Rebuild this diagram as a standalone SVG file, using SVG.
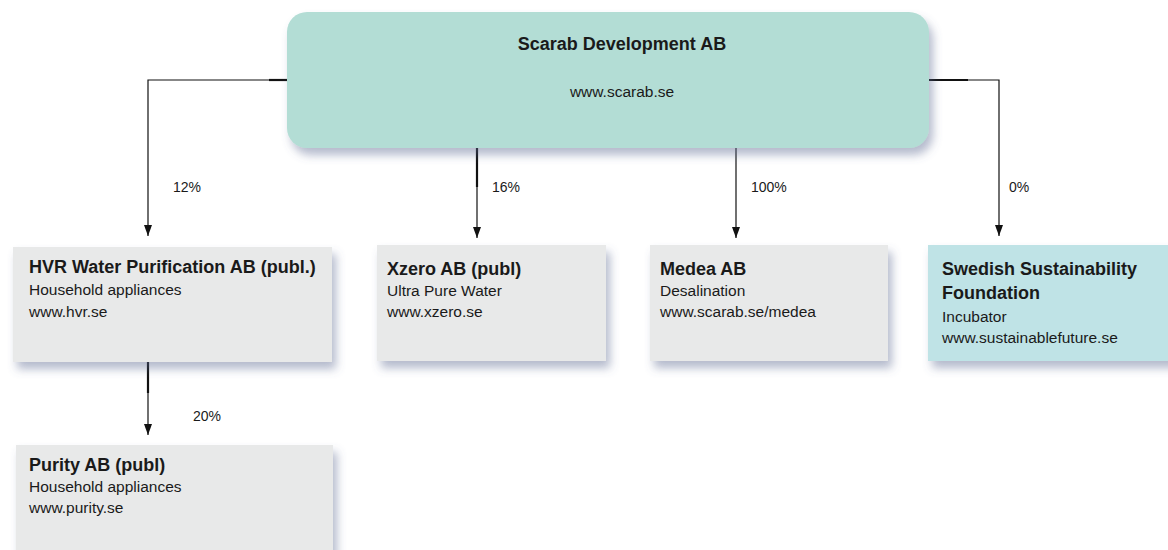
<svg xmlns="http://www.w3.org/2000/svg" width="1168" height="550" viewBox="0 0 1168 550">
<defs>
<filter id="sh" x="-10%" y="-20%" width="130%" height="160%">
<feGaussianBlur in="SourceAlpha" stdDeviation="5"/>
<feOffset dx="4" dy="7" result="b"/>
<feFlood flood-color="#5a6790" flood-opacity="0.45"/>
<feComposite in2="b" operator="in"/>
<feMerge><feMergeNode/><feMergeNode in="SourceGraphic"/></feMerge>
</filter>
<marker id="ah" markerWidth="12" markerHeight="8" refX="11" refY="4" orient="auto" markerUnits="userSpaceOnUse" viewBox="0 0 12 8">
<path d="M0,0 L11,4 L0,8 Z" fill="#111"/>
</marker>
</defs>
<style>
text{font-family:"Liberation Sans",Arial,sans-serif;fill:#1a1a1a}
.t{font-weight:bold;font-size:18px}
.s{font-size:15.5px}
.p{font-size:14px}
.box{fill:#e8e9e9;filter:url(#sh)}
.ln{stroke:#111;stroke-width:1.2;fill:none}
.st{stroke:#111;stroke-width:2.2;fill:none}
</style>
<rect width="1168" height="550" fill="#fff"/>
<g id="connectors">
<path class="ln" d="M287,80 H148 V236" marker-end="url(#ah)"/>
<path class="st" d="M269,80 H287"/>
<path class="ln" d="M929,80 H999 V236" marker-end="url(#ah)"/>
<path class="st" d="M929,80 H968"/>
<path class="ln" d="M477,148 V238" marker-end="url(#ah)"/>
<path class="st" d="M477,148 V187"/>
<path class="ln" d="M736,148 V238" marker-end="url(#ah)"/>
<path class="ln" d="M148,362 V435" marker-end="url(#ah)"/>
<path class="st" d="M148,362 V393"/>
<text class="p" x="173" y="192">12%</text>
<text class="p" x="492" y="192">16%</text>
<text class="p" x="751" y="192">100%</text>
<text class="p" x="1009" y="192">0%</text>
<text class="p" x="193" y="421">20%</text>
</g>
<g id="scarab">
<rect x="287" y="12" width="642" height="136" rx="20" fill="#b3ddd5" filter="url(#sh)"/>
<text class="t" x="622" y="50" text-anchor="middle">Scarab Development AB</text>
<text class="s" x="622" y="97" text-anchor="middle">www.scarab.se</text>
</g>
<g id="hvr">
<rect class="box" x="13" y="247" width="319" height="115"/>
<text class="t" x="29" y="273">HVR Water Purification AB (publ.)</text>
<text class="s" x="29" y="295">Household appliances</text>
<text class="s" x="29" y="317">www.hvr.se</text>
</g>
<g id="xzero">
<rect class="box" x="377" y="245" width="229" height="116"/>
<text class="t" x="387" y="275">Xzero AB (publ)</text>
<text class="s" x="387" y="296">Ultra Pure Water</text>
<text class="s" x="387" y="317">www.xzero.se</text>
</g>
<g id="medea">
<rect class="box" x="650" y="245" width="238" height="116"/>
<text class="t" x="660" y="275">Medea AB</text>
<text class="s" x="660" y="296">Desalination</text>
<text class="s" x="660" y="317">www.scarab.se/medea</text>
</g>
<g id="ssf">
<rect x="928" y="245" width="250" height="116" fill="#bfe3e6" filter="url(#sh)"/>
<text class="t" x="942" y="275">Swedish Sustainability</text>
<text class="t" x="942" y="299">Foundation</text>
<text class="s" x="942" y="322">Incubator</text>
<text class="s" x="942" y="343">www.sustainablefuture.se</text>
</g>
<g id="purity">
<rect class="box" x="16" y="445" width="317" height="110"/>
<text class="t" x="29" y="471">Purity AB (publ)</text>
<text class="s" x="29" y="492">Household appliances</text>
<text class="s" x="29" y="513">www.purity.se</text>
</g>
</svg>
